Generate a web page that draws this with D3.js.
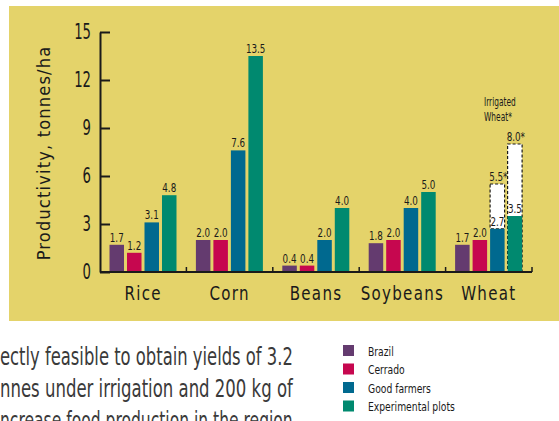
<!DOCTYPE html>
<html>
<head>
<meta charset="utf-8">
<script src="https://cdn.jsdelivr.net/npm/d3@7"></script>
<style>
  body { margin: 0; background: #fff; }
  text { font-family: "Liberation Sans Narrow", "DejaVu Sans Condensed", "Liberation Sans", sans-serif; }
</style>
</head>
<body>
<div id="chart"></div>
<script>
var WIDTH = 559, HEIGHT = 421;

// data
var crops = ["Rice", "Corn", "Beans", "Soybeans", "Wheat"];
var series = ["Brazil", "Cerrado", "Good farmers", "Experimental plots"];
var brazil = [1.7, 2.0, 0.4, 1.8, 1.7];
var cerrado = [1.2, 2.0, 0.4, 2.0, 2.0];
var goodFarmers = [3.1, 7.6, 2.0, 4.0, 2.7];
var experimental = [4.8, 13.5, 4.0, 5.0, 3.5];
var irrigatedWheat = [5.5, 8.0]; // good farmers, experimental plots
var yTicks = [0, 3, 6, 9, 12, 15];
var paragraph = ["ectly feasible to obtain yields of 3.2", "nnes under irrigation and 200 kg of", "ncrease food production in the region"];

var colors = ["#643B6F", "#C6074F", "#00698F", "#00896F"];
var color = d3.scaleOrdinal().domain(series).range(colors);
var INK = "#1a1a1a";

var rows = [];
crops.forEach((c, i) => {
    rows.push({crop: c, values: [brazil[i], cerrado[i], goodFarmers[i], experimental[i]]});
});

// narrow text: squeeze horizontally to look like a condensed face
function narrow(parent, x, y, str, size, sx, anchor) {
    return parent.append("g").attr("transform", "translate(" + x + "," + y + ")")
        .append("text").attr("transform", "scale(" + sx + ",1)")
        .attr("text-anchor", anchor || "start").attr("font-size", size).attr("fill", INK).text(str);
}

const svg = d3.select("#chart").append("svg").attr("width", WIDTH).attr("height", HEIGHT);

// yellow panel
svg.append("rect").attr("x", 9).attr("y", 6).attr("width", WIDTH - 9).attr("height", 315).attr("fill", "#E4D36A");

const x_scale = d3.scaleBand().domain(crops).range([100, 532]).padding(0);
const x1_scale = d3.scaleBand().domain(series).range([9.5, 76.5]).paddingInner(0.171).paddingOuter(0);
const y_scale = d3.scaleLinear().domain([0, 15]).range([272, 32]);

// y axis
const gen_y = d3.axisLeft(y_scale).tickValues(yTicks).tickSizeInner(-10).tickSizeOuter(0).tickPadding(9);
const yg = svg.append("g").attr("transform", "translate(100,0)").call(gen_y);
yg.select(".domain").attr("stroke", INK).attr("stroke-width", 2);
yg.selectAll(".tick line").attr("stroke", INK).attr("stroke-width", 2);
yg.selectAll(".tick text").attr("font-size", 21).attr("fill", INK)
    .attr("x", -9 / 0.7).attr("transform", "scale(0.7,1)")
    .style("font-family", "'Liberation Sans Narrow', 'DejaVu Sans Condensed', sans-serif");

// y title
svg.append("text").attr("transform", "translate(50," + 153 + ") rotate(-90)")
    .attr("text-anchor", "middle").attr("font-size", 18).attr("letter-spacing", 1.2)
    .attr("fill", INK).text("Productivity, tonnes/ha");

// irrigated wheat dashed boxes
const wheatX = x_scale("Wheat");
svg.append("rect").attr("x", wheatX + x1_scale("Experimental plots")).attr("width", x1_scale.bandwidth())
    .attr("y", y_scale(irrigatedWheat[1])).attr("height", y_scale(0) - y_scale(irrigatedWheat[1]))
    .attr("fill", "#fff").attr("stroke", INK).attr("stroke-width", 1.2).attr("stroke-dasharray", "3,2");
svg.append("rect").attr("x", wheatX + x1_scale("Good farmers")).attr("width", x1_scale.bandwidth())
    .attr("y", y_scale(irrigatedWheat[0])).attr("height", y_scale(goodFarmers[4]) - y_scale(irrigatedWheat[0]))
    .attr("fill", "#fff").attr("stroke", INK).attr("stroke-width", 1.2).attr("stroke-dasharray", "3,2");

// bars
const groups = svg.selectAll(".grp").data(rows).enter().append("g").attr("class", "grp")
    .attr("transform", d => "translate(" + x_scale(d.crop) + ",0)");

groups.selectAll("rect").data(d => d.values.map((v, i) => ({key: series[i], value: v}))).enter().append("rect")
    .attr("x", d => x1_scale(d.key)).attr("y", d => y_scale(d.value))
    .attr("width", x1_scale.bandwidth()).attr("height", d => y_scale(0) - y_scale(d.value))
    .attr("fill", d => color(d.key));

groups.each(function(d) {
    const g = d3.select(this);
    d.values.forEach((v, i) => {
        narrow(g, x1_scale(series[i]) + x1_scale.bandwidth() / 2, y_scale(v) - 3, d3.format(".1f")(v), 12.5, 0.78, "middle");
    });
});

// irrigated labels
narrow(svg, wheatX + x1_scale("Good farmers") + x1_scale.bandwidth() / 2 + 1, y_scale(irrigatedWheat[0]) - 3,
    d3.format(".1f")(irrigatedWheat[0]) + "*", 12.5, 0.78, "middle");
narrow(svg, wheatX + x1_scale("Experimental plots") + x1_scale.bandwidth() / 2 + 1, y_scale(irrigatedWheat[1]) - 3,
    d3.format(".1f")(irrigatedWheat[1]) + "*", 12.5, 0.78, "middle");
narrow(svg, 484, 106, "Irrigated", 11.5, 0.72);
narrow(svg, 484, 121, "Wheat*", 11.5, 0.72);

// x axis
svg.append("line").attr("x1", 100).attr("x2", 532).attr("y1", y_scale(0)).attr("y2", y_scale(0))
    .attr("stroke", INK).attr("stroke-width", 2);
svg.selectAll(".xtick").data(crops).enter().append("line").attr("class", "xtick")
    .attr("x1", d => x_scale(d) + x_scale.bandwidth()).attr("x2", d => x_scale(d) + x_scale.bandwidth())
    .attr("y1", y_scale(0)).attr("y2", y_scale(0) - 5).attr("stroke", INK).attr("stroke-width", 1.5);
crops.forEach(c => {
    narrow(svg, x_scale(c) + x_scale.bandwidth() / 2, 300, c, 19.5, 0.86, "middle").attr("letter-spacing", 1.5);
});

// paragraph below (justified to the right edge of its column by squeezing each line)
paragraph.forEach((line, i) => {
    const t = svg.append("g").attr("transform", "translate(0," + (365 + i * 32) + ")")
        .append("text").attr("font-size", 24).attr("fill", "#3a3a3a").text(line);
    const w = t.node().getComputedTextLength();
    t.attr("transform", "scale(" + (293 / w) + ",1)");
});

// legend
const legend = svg.append("g").attr("transform", "translate(343,345)");
series.forEach((s, i) => {
    const row = legend.append("g").attr("transform", "translate(0," + (i * 18.5) + ")");
    row.append("rect").attr("width", 11).attr("height", 11).attr("fill", color(s));
    narrow(row, 25, 10.5, s, 12.5, 0.82);
});
</script>
</body>
</html>
